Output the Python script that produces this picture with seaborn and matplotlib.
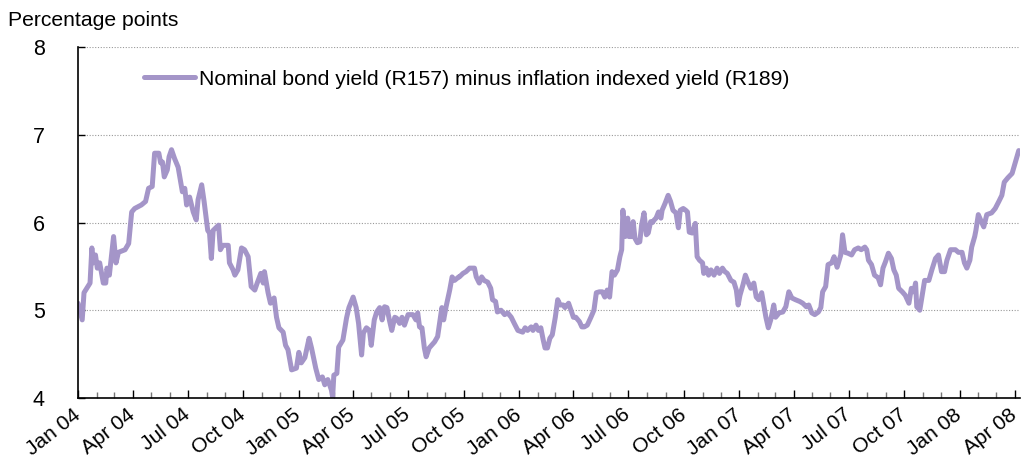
import pandas as pd
import matplotlib.pyplot as plt
import matplotlib.dates as mdates
import matplotlib.transforms as mtransforms
import seaborn as sns

# days after 1 Jan 2004 and spread (percentage points)
days = [0, 7, 10, 20, 23, 25, 29, 32, 36, 42, 46, 48, 52, 55, 59, 63, 67, 78, 84, 89,
        94, 105, 112, 117, 123, 127, 134, 137, 140, 143, 148, 151, 155, 160, 166, 173, 177, 180, 185, 191,
        196, 199, 205, 209, 215, 218, 221, 224, 233, 236, 240, 249, 251, 257, 260, 265, 271, 276, 282, 287,
        293, 297, 303, 307, 309, 315, 319, 325,
        329, 333, 340, 344, 348, 354, 362, 366, 370, 376, 383, 387, 394, 399, 405, 409, 414, 420, 422, 424,
        429, 432, 439, 445, 449, 456, 461, 465, 470, 473, 478, 483, 486, 491, 495, 500, 504, 508, 512, 516,
        520, 525, 528, 533, 537, 541, 547, 555, 560, 563, 566, 570, 574, 577, 582, 591, 596, 600, 603, 606,
        610, 616, 620, 624, 631,
        632, 638, 643, 649, 657, 660, 665, 669, 673, 679, 684, 687, 692, 695, 701, 707, 712, 718, 723, 729,
        737, 741, 745, 751, 754, 759, 763, 767, 771, 774, 778, 782, 786, 791, 795, 799, 804, 807, 813, 817,
        821, 825, 831, 835, 839, 844, 850, 855, 859, 864, 869, 873, 877, 881, 885, 889, 894, 898, 901,
        903, 907, 911, 913, 918, 920, 923, 927, 931, 934, 938, 942, 945, 949, 952, 955, 958, 962, 966, 968,
        973, 978, 982, 986, 991, 995, 998, 1003, 1007, 1010, 1013, 1018, 1023, 1026, 1030, 1035, 1037, 1041,
        1045, 1049, 1054, 1059, 1063, 1068, 1072, 1076, 1082, 1087, 1091, 1094, 1097, 1102, 1106, 1111, 1115,
        1120, 1124, 1128, 1133, 1137, 1140, 1144, 1148, 1153, 1156, 1162, 1168, 1173, 1178, 1183, 1189, 1196,
        1201, 1207, 1211, 1216, 1221, 1227, 1231, 1234, 1239, 1243, 1249, 1253, 1258, 1264, 1267, 1271, 1276,
        1282, 1287, 1293, 1298, 1304, 1307, 1310, 1315, 1320, 1326, 1330, 1334, 1338, 1343, 1348, 1352, 1356,
        1360, 1366, 1371, 1377, 1381, 1385, 1388, 1390, 1395, 1399, 1403, 1410, 1415, 1421, 1426, 1431, 1436,
        1440, 1446, 1454, 1459, 1465, 1469, 1473, 1478, 1481, 1486, 1488, 1492, 1497, 1501, 1506, 1514, 1520,
        1526, 1531, 1535, 1541, 1548, 1553, 1559]
spread = [5.08, 4.89, 5.20, 5.31, 5.71, 5.54, 5.63, 5.48, 5.54, 5.31, 5.31, 5.48, 5.40, 5.59, 5.84, 5.54, 5.66, 5.69, 5.76, 6.12,
          6.16, 6.20, 6.24, 6.39, 6.41, 6.79, 6.79, 6.68, 6.69, 6.52, 6.60, 6.75, 6.83, 6.73, 6.63, 6.35, 6.39, 6.20, 6.29, 6.12,
          6.03, 6.26, 6.43, 6.24, 5.91, 5.88, 5.59, 5.91, 5.97, 5.69, 5.74, 5.74, 5.54, 5.46, 5.40, 5.46, 5.71, 5.69, 5.61, 5.27,
          5.23, 5.31, 5.42, 5.31, 5.44, 5.20, 5.08, 5.14,
          4.92, 4.80, 4.75, 4.60, 4.55, 4.32, 4.34, 4.52, 4.40, 4.46, 4.68, 4.57, 4.34, 4.21, 4.24, 4.15, 4.21, 4.09, 4.01, 4.26,
          4.28, 4.58, 4.66, 4.91, 5.03, 5.15, 5.03, 4.85, 4.49, 4.74, 4.80, 4.77, 4.60, 4.89, 4.98, 5.03, 4.89, 5.04, 5.03, 4.89,
          4.77, 4.92, 4.91, 4.85, 4.92, 4.83, 4.95, 4.95, 4.89, 4.97, 4.81, 4.80, 4.57, 4.47, 4.57, 4.64, 4.70, 4.89, 5.03, 4.89,
          5.04, 5.23, 5.38, 5.34, 5.38,
          5.38, 5.42, 5.44, 5.48, 5.48, 5.38, 5.31, 5.38, 5.34, 5.32, 5.25, 5.12, 5.10, 4.98, 5.00, 4.95, 4.97, 4.92, 4.85, 4.77,
          4.75, 4.80, 4.77, 4.81, 4.77, 4.83, 4.77, 4.80, 4.66, 4.57, 4.57, 4.68, 4.72, 4.92, 5.12, 5.06, 5.06, 5.03, 5.08, 5.00,
          4.92, 4.92, 4.87, 4.81, 4.81, 4.83, 4.92, 5.00, 5.20, 5.21, 5.21, 5.15, 5.23, 5.15, 5.44, 5.40, 5.46, 5.61, 5.69,
          6.14, 5.84, 6.05, 5.84, 5.84, 6.01, 5.82, 5.77, 5.78, 5.97, 6.11, 5.86, 5.88, 6.01, 6.00, 6.03, 6.05, 6.12, 6.05, 6.14,
          6.22, 6.31, 6.24, 6.14, 6.11, 5.94, 6.14, 6.16, 6.14, 6.12, 5.89, 5.88, 5.99, 5.61, 5.57, 5.54, 5.42, 5.48,
          5.40, 5.46, 5.40, 5.48, 5.42, 5.48, 5.44, 5.42, 5.34, 5.32, 5.23, 5.06, 5.17, 5.29, 5.40, 5.31, 5.25,
          5.31, 5.15, 5.12, 5.20, 5.04, 4.92, 4.80, 4.89, 5.06, 4.92, 4.97, 4.98, 5.04, 5.21, 5.14, 5.12, 5.10,
          5.08, 5.04, 5.06, 4.97, 4.95, 4.98, 5.03, 5.21, 5.27, 5.52, 5.54, 5.61, 5.49, 5.63, 5.86, 5.66, 5.65,
          5.63, 5.69, 5.71, 5.69, 5.72, 5.69, 5.57, 5.52, 5.40, 5.37, 5.29, 5.48, 5.55, 5.65, 5.59, 5.46, 5.40,
          5.25, 5.21, 5.17, 5.08, 5.25, 5.21, 5.31, 5.04, 5.00, 5.17, 5.34, 5.34, 5.46, 5.59, 5.63, 5.44, 5.44,
          5.57, 5.69, 5.69, 5.66, 5.66, 5.54, 5.48, 5.57, 5.72, 5.84, 5.91, 6.09, 6.01, 5.95, 6.09, 6.11, 6.16,
          6.24, 6.31, 6.46, 6.51, 6.56, 6.68, 6.82]
series_label = "Nominal bond yield (R157) minus inflation indexed yield (R189)"
y_ticks = [4, 5, 6, 7, 8]

df = pd.DataFrame({"date": pd.Timestamp("2004-01-01") + pd.to_timedelta(days, unit="D"),
                   "spread": spread})

sns.set_style("white", {"text.color": "black", "xtick.color": "black", "ytick.color": "black"})
plt.rcParams["font.family"] = ["Liberation Sans", "DejaVu Sans"]

fig = plt.figure(figsize=(10.22, 4.66), dpi=100)
ax = fig.add_axes([0.0763, 0.146, 0.9217, 0.753])

sns.lineplot(data=df, x="date", y="spread", ax=ax, color="#a495c8", linewidth=3.6,
             label=series_label)

ax.set_xlim(pd.Timestamp("2004-01-01"), pd.Timestamp("2008-04-10"))
ax.set_ylim(4, 8)
ax.set_yticks(y_ticks)
ax.set_xlabel("")
ax.set_ylabel("")

# dotted grid lines
for v in y_ticks[1:]:
    ax.axhline(v, color="#999999", linestyle=(0, (1, 1.5)), linewidth=0.8, zorder=0)

ax.xaxis.set_major_locator(mdates.MonthLocator(bymonth=[1, 4, 7, 10]))
ax.xaxis.set_minor_locator(mdates.MonthLocator())
ax.xaxis.set_major_formatter(mdates.DateFormatter("%b %y"))

for side in ["top", "right"]:
    ax.spines[side].set_visible(False)
for side in ["left", "bottom"]:
    ax.spines[side].set_color("black")
    ax.spines[side].set_linewidth(1.2)

ax.tick_params(axis="y", direction="in", length=5, width=1, labelsize=15.5, pad=24, left=True,
               colors="black")
ax.tick_params(axis="x", which="major", direction="in", length=6, width=1, labelsize=15, pad=5,
               bottom=True, colors="black")
ax.tick_params(axis="x", which="minor", direction="in", length=4, width=1, color="#777777", bottom=True)
shift = mtransforms.ScaledTranslation(-6 / 100, 0, fig.dpi_scale_trans)
for lbl in ax.get_xticklabels():
    lbl.set_rotation(38)
    lbl.set_ha("right")
    lbl.set_rotation_mode("anchor")
    lbl.set_transform(lbl.get_transform() + shift)

leg = ax.legend(loc="upper left", bbox_to_anchor=(0.05, 0.99), frameon=False, fontsize=15.2,
                handlelength=2.4, handletextpad=0.2)
for t in leg.get_texts():
    t.set_color("black")

fig.text(0.008, 0.957, "Percentage points", fontsize=15.2, ha="left", va="center", color="black")

fig.savefig("out.png", dpi=100)
